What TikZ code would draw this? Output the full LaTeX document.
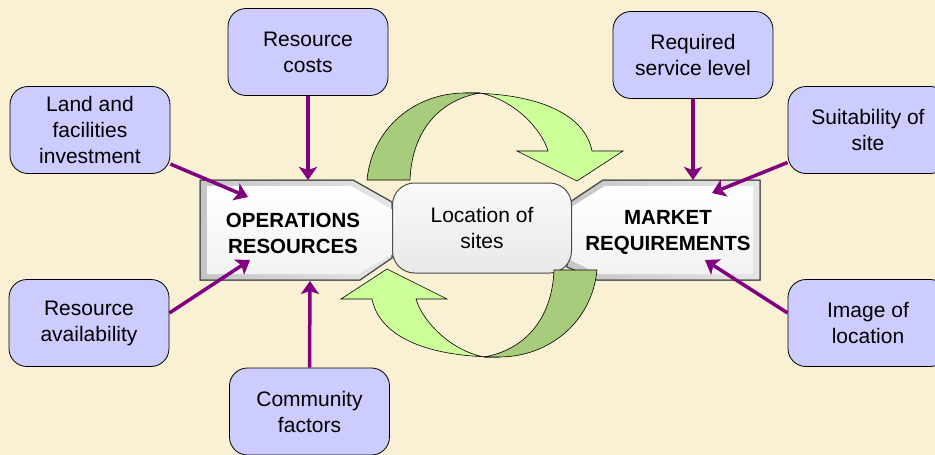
\documentclass[tikz,border=0pt]{standalone}
\usepackage{fontspec}
\setmainfont{Liberation Sans}
\usetikzlibrary{arrows.meta}

\definecolor{cream}{RGB}{250,240,212}
\definecolor{lavender}{RGB}{204,204,255}
\definecolor{purp}{RGB}{128,0,128}
\definecolor{darkgr}{RGB}{166,204,124}
\definecolor{lightgr}{RGB}{204,255,153}

\tikzset{
  factor/.style={draw=black, fill=lavender, line width=0.8pt, rounded corners=18pt,
    minimum width=160pt, minimum height=87pt, inner sep=0pt, align=center,
    font=\fontsize{21}{26}\selectfont, execute at begin node={\rule{0pt}{21pt}}},
  feed/.style={draw=purp, line width=3.5pt, -{Stealth[length=13pt,width=18pt,inset=3pt]}},
  bevel/.style={left color=gray!45, right color=gray!20, draw=gray!60!black, line width=1pt},
  face/.style={top color=white, bottom color=gray!10, draw=none},
  headlabel/.style={align=center, font=\bfseries\fontsize{20.5}{26}\selectfont},
  ribbon/.style={draw=black, line width=0.6pt}
}

\begin{document}
\begin{tikzpicture}[x=1pt,y=-1pt]

\useasboundingbox (0,0) rectangle (935,455);
\fill [cream] (0,0) rectangle (935,455);
\clip (0,0) rectangle (935,455);

\path (200,180) coordinate (OpsA);
\path (353,180) coordinate (OpsB);
\path (392,202) coordinate (OpsC);
\path (392,258) coordinate (OpsD);
\path (360,280) coordinate (OpsE);
\path (200,280) coordinate (OpsF);

\path (760,180) coordinate (MktA);
\path (603,180) coordinate (MktB);
\path (570,202) coordinate (MktC);
\path (567,267) coordinate (MktD);
\path (597,280) coordinate (MktE);
\path (760,280) coordinate (MktF);

\path (308,180) coordinate (OpsTop);
\path (248,197) coordinate (OpsTL);
\path (250,260) coordinate (OpsBL);
\path (310,281) coordinate (OpsBot);
\path (693,180) coordinate (MktTop);
\path (712,193) coordinate (MktTR);
\path (705,260) coordinate (MktBR);

\shade [bevel] (OpsA) -- (OpsB) -- (OpsC) -- (OpsD) -- (OpsE) -- (OpsF) -- cycle;
\draw [gray!60!black, line width=1pt] (OpsA) -- (OpsB) -- (OpsC) -- (OpsD) -- (OpsE) -- (OpsF) -- cycle;
\shade [face] (207,186) -- (351,186) -- (400,214) -- (400,250) -- (358,274) -- (207,274) -- cycle;
\shade [bevel] (MktA) -- (MktB) -- (MktC) -- (MktD) -- (MktE) -- (MktF) -- cycle;
\draw [gray!60!black, line width=1pt] (MktA) -- (MktB) -- (MktC) -- (MktD) -- (MktE) -- (MktF) -- cycle;
\shade [face] (753,186) -- (605,186) -- (560,214) -- (560,255) -- (599,274) -- (753,274) -- cycle;

\node [headlabel] (OpsLabel) at (293,233) {OPERATIONS\\RESOURCES};
\node [headlabel] (MktLabel) at (668,232) {MARKET\\REQUIREMENTS};

\node [draw=black!70, line width=1pt, rounded corners=22pt, top color=gray!4, bottom color=gray!18,
  minimum width=179pt, minimum height=90pt, align=center,
  font=\fontsize{21}{26}\selectfont] (Loc) at (482,228) {Location of\\sites};

\foreach \ang in {0,180} {
  \begin{scope}[rotate around={\ang:(482,225)}]
  \draw [ribbon, fill=lightgr] (465,93) .. controls (540,93) and (585,115) .. (592,151)
    -- (623,151) -- (577,181) -- (517,151) -- (548,151)
    .. controls (542,130) and (515,100) .. (480,93) -- cycle;
  \draw [ribbon, fill=darkgr] (367,180) .. controls (372,128) and (415,93) .. (465,93)
    -- (480,93) .. controls (440,100) and (412,130) .. (410,180) -- cycle;
  \end{scope}
}

\node [factor] (Costs) at (308,52) {Resource\\costs};
\node [factor] (Land) at (90,130) {Land and\\facilities\\investment};
\node [factor] (Avail) at (89,323) {Resource\\availability};
\node [factor] (Community) at (309.5,411.5) {Community\\factors};
\node [factor] (Service) at (693,55) {Required\\service level};
\node [factor] (Suit) at (868,130) {Suitability of\\site};
\node [factor] (Image) at (868,323) {Image of\\location};

\draw [feed] (Costs.south) -- (OpsTop);
\draw [feed] (Land) -- (OpsTL);
\draw [feed] ([yshift=10pt]Avail.east) -- (OpsBL);
\draw [feed] (Community.north) -- (OpsBot);
\draw [feed] (Service.south) -- (MktTop);
\draw [feed] (Suit) -- (MktTR);
\draw [feed] ([yshift=10pt]Image.west) -- (MktBR);

\end{tikzpicture}
\end{document}
